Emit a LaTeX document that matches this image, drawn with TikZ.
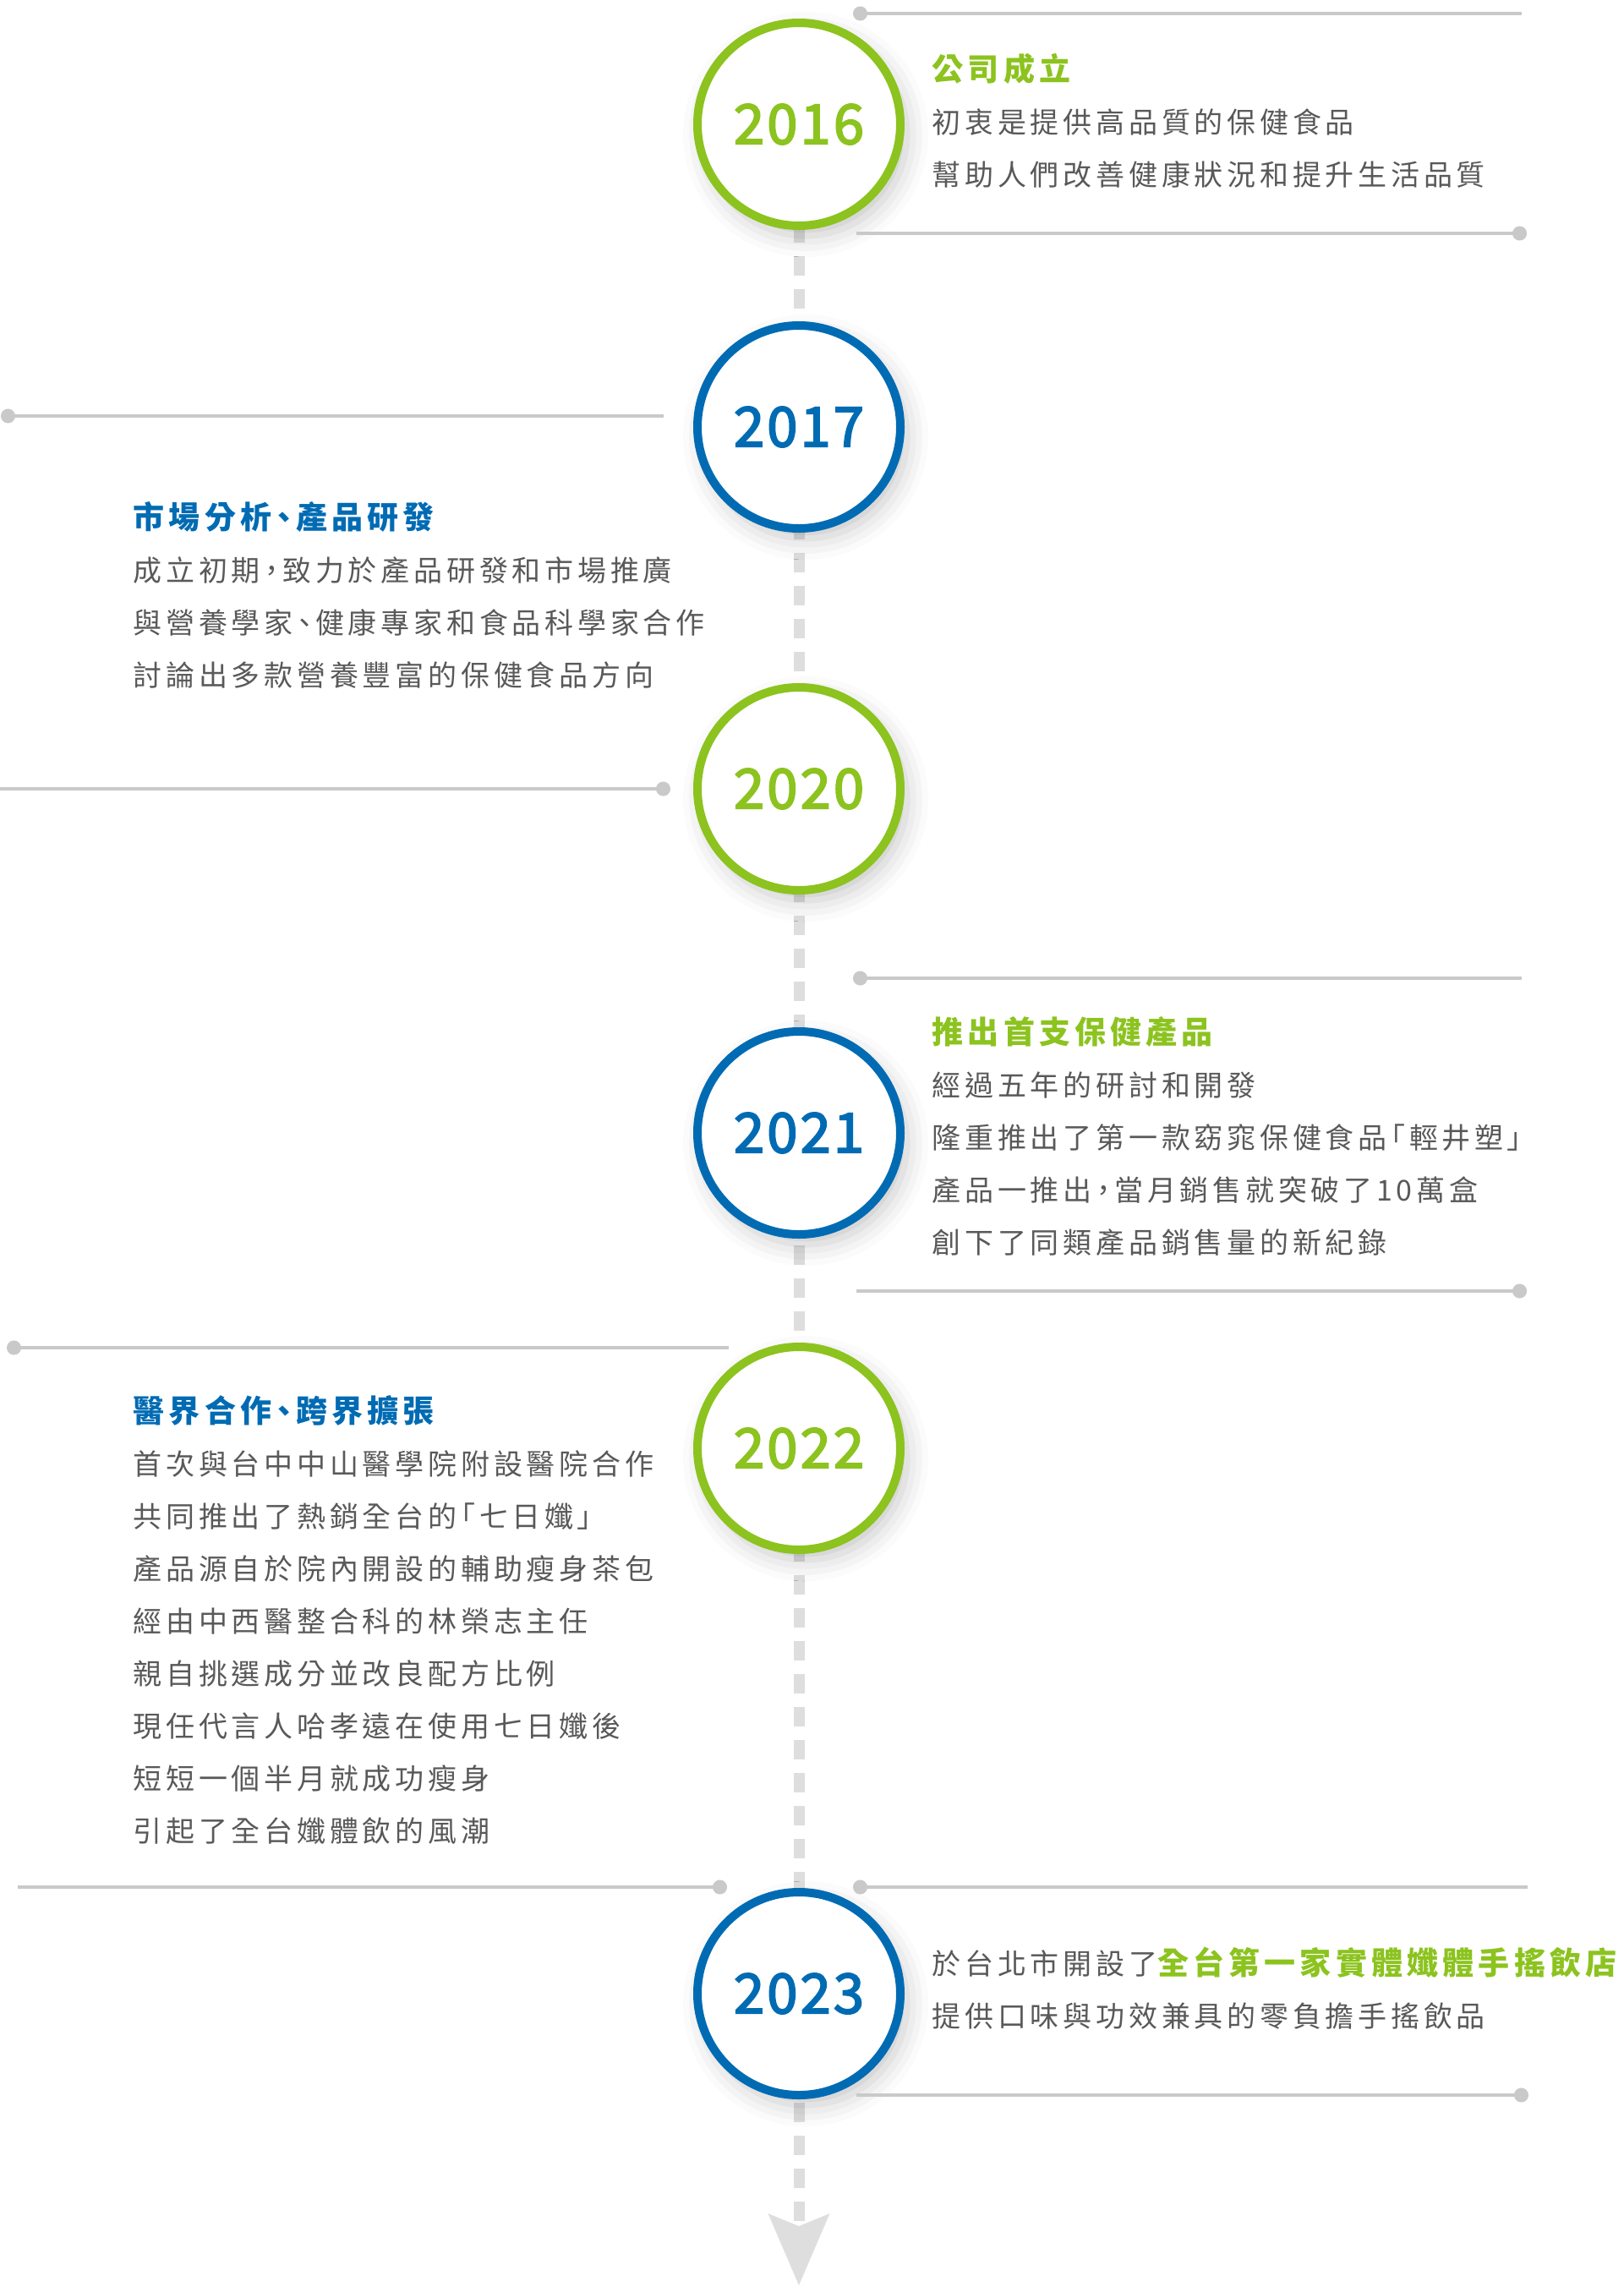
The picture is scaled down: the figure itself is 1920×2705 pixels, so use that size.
\documentclass[tikz,border=0pt]{standalone}
\usepackage{fontspec}
\setmainfont{Noto Sans CJK TC}
\newfontfamily\bodyfont[LetterSpace=14,RawFeature=+palt]{Noto Sans CJK TC}
\newfontfamily\headfont[LetterSpace=14,RawFeature=+palt]{Noto Sans CJK TC}
\newfontfamily\yearfont[LetterSpace=5,FakeBold=3]{Noto Sans CJK TC}
\usetikzlibrary{arrows.meta,shadows.blur}

\definecolor{tlgreen}{HTML}{8CC31F}
\definecolor{tlblue}{HTML}{006BB3}
\definecolor{rulegray}{HTML}{C9C9C9}
\definecolor{dashgray}{HTML}{DEDEDE}
\definecolor{bodygray}{HTML}{595959}

% bold coloured heading inside an event text
\newcommand\evtitle[2]{{\headfont\bfseries\fontsize{3.7mm}{6.2mm}\selectfont\color{#1}#2}}

\begin{document}
\begin{tikzpicture}[
  x=0.1mm, y=-0.1mm,
  year/.style={circle, draw=#1, fill=white, line width=1mm, minimum size=24mm,
               inner sep=0pt, text=#1,
               font=\yearfont\fontsize{6.5mm}{7mm}\selectfont,
               blur shadow={shadow xshift=0.8mm, shadow yshift=-1.2mm,
                            shadow blur radius=2.5mm, shadow opacity=22}},
  event/.style={anchor=north west, inner sep=0pt, align=left, text=bodygray,
                font=\bodyfont\fontsize{3.4mm}{6.2mm}\selectfont},
  rule/.style={draw=rulegray, line width=0.4mm},
  dotleft/.style={rule, {Circle[length=1.7mm]}-},
  dotright/.style={rule, -{Circle[length=1.7mm]}},
  timeline/.style={draw=dashgray, line width=1.3mm, dash pattern=on 2.3mm off 1.6mm}
]
\useasboundingbox (0,0) rectangle (1920,2705);

\coordinate (c2016) at (945,147);
\coordinate (c2017) at (945,505);
\coordinate (c2020) at (945,933);
\coordinate (c2021) at (945,1340);
\coordinate (c2022) at (945,1713);
\coordinate (c2023) at (945,2358);
\coordinate (tlend) at (945,2703);

% central time axis
\draw[timeline, -{Stealth[length=8.5mm, width=7.3mm, inset=1.5mm, line width=0pt]}]
  (c2016) -- (tlend);

% year rings
\node[year=tlgreen] (y2016) at (c2016) {2016};
\node[year=tlblue]  (y2017) at (c2017) {2017};
\node[year=tlgreen] (y2020) at (c2020) {2020};
\node[year=tlblue]  (y2021) at (c2021) {2021};
\node[year=tlgreen] (y2022) at (c2022) {2022};
\node[year=tlblue]  (y2023) at (c2023) {2023};

% rules
\draw[dotleft]  (1009,16) -- (1800,16);
\draw[dotright] (1013,276) -- (1806,276);
\draw[dotleft]  (1,492) -- (785,492);
\draw[dotright] (0,933) -- (793,933);
\draw[dotleft]  (1009,1157) -- (1800,1157);
\draw[dotright] (1013,1527) -- (1806,1527);
\draw[dotleft]  (8,1594) -- (862,1594);
\draw[dotright] (21,2232) -- (860,2232);
\draw[dotleft]  (1009,2232) -- (1807,2232);
\draw[dotright] (1013,2478) -- (1808,2478);

% event texts
\node[event] (e2016) at (1102,63) {\evtitle{tlgreen}{公司成立}\\
初衷是提供高品質的保健食品\\
幫助人們改善健康狀況和提升生活品質};
\node[event] (e2017) at (157,593) {\evtitle{tlblue}{市場分析、產品研發}\\
成立初期，致力於產品研發和市場推廣\\
與營養學家、健康專家和食品科學家合作\\
討論出多款營養豐富的保健食品方向};
\node[event] (e2021) at (1102,1202) {\evtitle{tlgreen}{推出首支保健產品}\\
經過五年的研討和開發\\
隆重推出了第一款窈窕保健食品「輕井塑」\\
產品一推出，當月銷售就突破了10萬盒\\
創下了同類產品銷售量的新紀錄};
\node[event] (e2022) at (157,1650) {\evtitle{tlblue}{醫界合作、跨界擴張}\\
首次與台中中山醫學院附設醫院合作\\
共同推出了熱銷全台的「七日孅」\\
產品源自於院內開設的輔助瘦身茶包\\
經由中西醫整合科的林榮志主任\\
親自挑選成分並改良配方比例\\
現任代言人哈孝遠在使用七日孅後\\
短短一個半月就成功瘦身\\
引起了全台孅體飲的風潮};
\node[event] (e2023) at (1102,2302) {於台北市開設了\evtitle{tlgreen}{全台第一家實體孅體手搖飲店}\\
提供口味與功效兼具的零負擔手搖飲品};
\end{tikzpicture}
\end{document}
